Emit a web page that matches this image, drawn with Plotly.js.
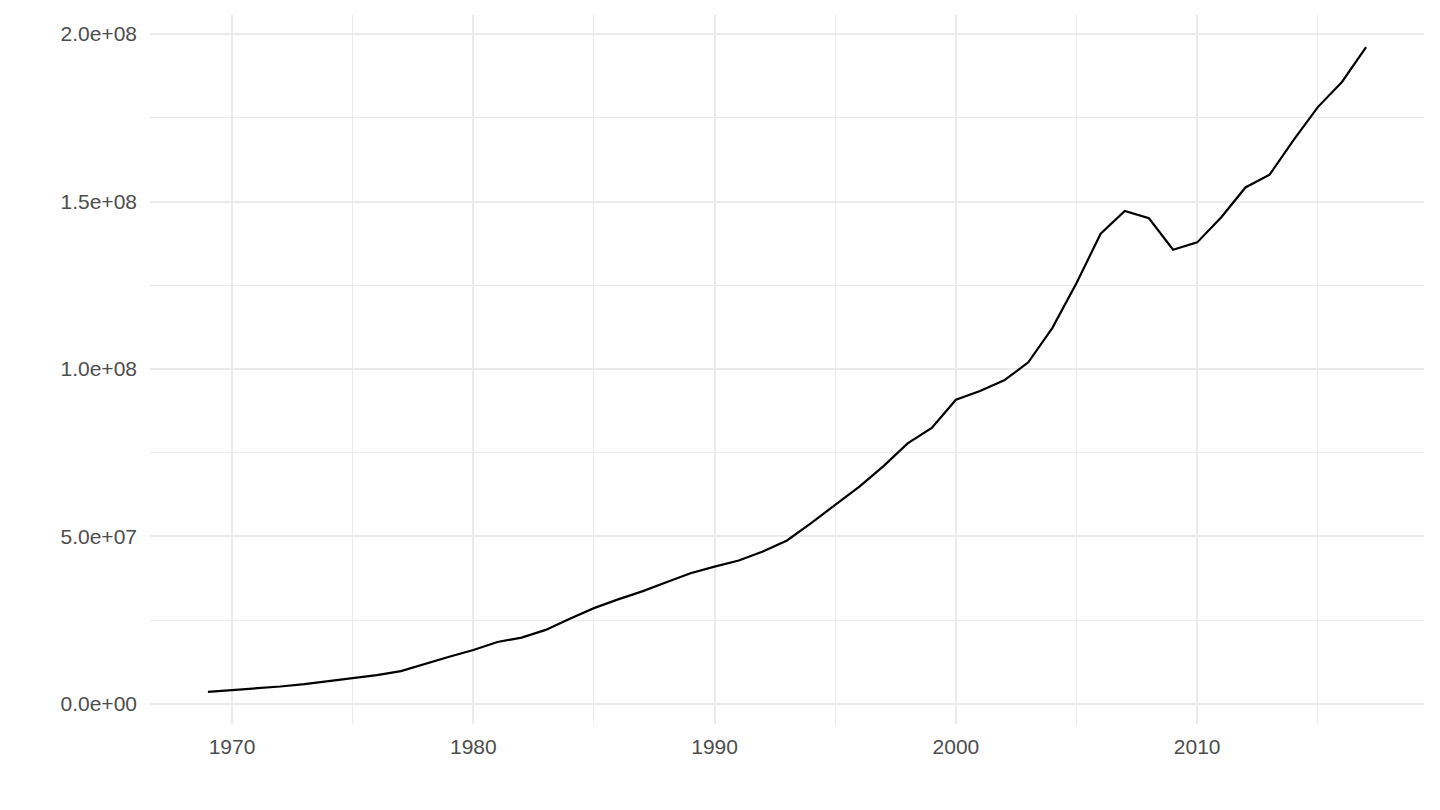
<!DOCTYPE html>
<html>
<head>
<meta charset="utf-8">
<script src="https://cdn.plot.ly/plotly-3.0.1.min.js"></script>
<style>
html,body{margin:0;padding:0;background:#fff;}
#chart{width:1440px;height:810px;}
</style>
</head>
<body>
<div id="chart"></div>
<script>
const years = [1969,1970,1971,1972,1973,1974,1975,1976,1977,1978,1979,
  1980,1981,1982,1983,1984,1985,1986,1987,1988,1989,
  1990,1991,1992,1993,1994,1995,1996,1997,1998,1999,
  2000,2001,2002,2003,2004,2005,2006,2007,2008,2009,
  2010,2011,2012,2013,2014,2015,2016,2017];
const values = [3.6e6,4.1e6,4.6e6,5.2e6,5.9e6,6.8e6,7.7e6,8.6e6,9.8e6,12.0e6,14.1e6,
  16.1e6,18.5e6,19.8e6,22.1e6,25.4e6,28.6e6,31.2e6,33.6e6,36.3e6,39.0e6,
  41.0e6,42.8e6,45.5e6,48.8e6,54.0e6,59.4e6,64.9e6,71.0e6,77.8e6,82.4e6,
  90.8e6,93.4e6,96.6e6,102.0e6,112.3e6,125.7e6,140.4e6,147.2e6,145.0e6,135.6e6,
  137.8e6,145.3e6,154.2e6,158.0e6,168.4e6,178.2e6,185.7e6,196.1e6];
const xTickVals = [1970,1980,1990,2000,2010];
const xTickText = ["1970","1980","1990","2000","2010"];
const yTickVals = [0,5e7,1e8,1.5e8,2e8];
const yTickText = ["0.0e+00","5.0e+07","1.0e+08","1.5e+08","2.0e+08"];

const trace = {
  x: years, y: values, type: 'scatter', mode: 'lines',
  line: {color: '#000000', width: 2.2}, hoverinfo: 'x+y'
};
const layout = {
  width: 1440, height: 810,
  margin: {l: 150, r: 16, t: 15, b: 86},
  paper_bgcolor: '#ffffff', plot_bgcolor: '#ffffff',
  showlegend: false,
  font: {family: 'Liberation Sans, Arial, sans-serif', color: '#4D4D4D', size: 21},
  xaxis: {
    range: [1966.6, 2019.4],
    tickmode: 'array', tickvals: xTickVals, ticktext: xTickText,
    showgrid: true, gridcolor: '#EBEBEB', gridwidth: 2,
    minor: {tickmode: 'array', tickvals: [1965,1975,1985,1995,2005,2015], showgrid: true, gridcolor: '#EBEBEB', gridwidth: 1},
    zeroline: false, showline: false, ticks: '',
    ticklabelstandoff: 8,
    tickfont: {size: 21, color: '#4D4D4D'}
  },
  yaxis: {
    range: [-6.0e6, 2.057e8],
    tickmode: 'array', tickvals: yTickVals, ticktext: yTickText,
    showgrid: true, gridcolor: '#EBEBEB', gridwidth: 2,
    minor: {tickmode: 'array', tickvals: [2.5e7,7.5e7,1.25e8,1.75e8], showgrid: true, gridcolor: '#EBEBEB', gridwidth: 1},
    zeroline: false, showline: false, ticks: '',
    ticklabelstandoff: 12,
    tickfont: {size: 21, color: '#4D4D4D'}
  }
};
Plotly.newPlot('chart', [trace], layout, {displayModeBar: false, staticPlot: true});
</script>
</body>
</html>
